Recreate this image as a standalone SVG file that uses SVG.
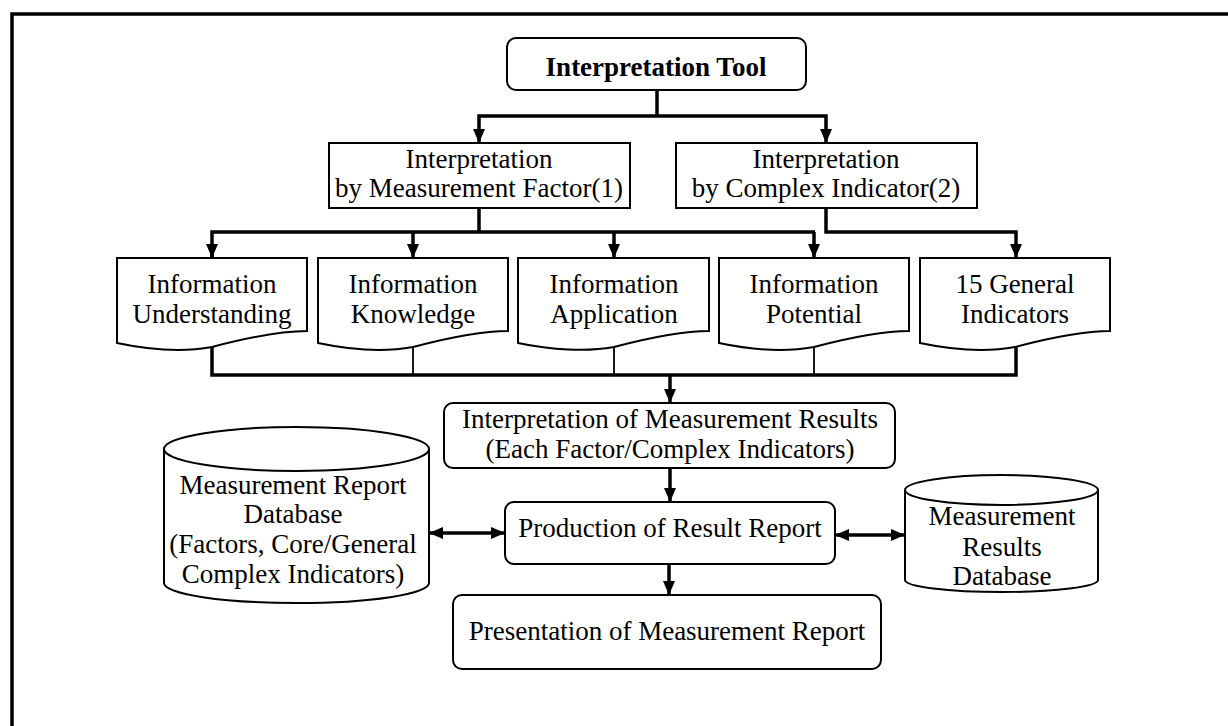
<svg xmlns="http://www.w3.org/2000/svg" width="1228" height="726" viewBox="0 0 1228 726">
<style>
text{font-family:"Liberation Serif","Times New Roman",serif;font-size:27px;fill:#000;text-anchor:middle}
.b{font-weight:bold}
.shape{fill:#fff;stroke:#000;stroke-width:2}
.c{fill:none;stroke:#000;stroke-width:3.5}
.t{fill:none;stroke:#000;stroke-width:1.8}
</style>
<defs>
<marker id="ah" viewBox="0 0 14 12" refX="14" refY="6" markerWidth="14" markerHeight="12" markerUnits="userSpaceOnUse" orient="auto-start-reverse">
<path d="M0,0 L14,6 L0,12 Z" fill="#000"/>
</marker>
</defs>
<rect x="0" y="0" width="1228" height="726" fill="#fff"/>
<rect x="12" y="14" width="1240" height="740" fill="none" stroke="#000" stroke-width="3.5"/>
<g id="nodes">
<g id="n-tool"><rect class="shape" x="507" y="38" width="299" height="52" rx="9"/><text class="b" x="656" y="76">Interpretation Tool</text></g>
<g id="n-factor"><rect class="shape" x="329" y="143" width="301" height="65"/><text x="479" y="168">Interpretation</text><text x="479" y="197">by Measurement Factor(1)</text></g>
<g id="n-complex"><rect class="shape" x="676" y="143" width="301" height="65"/><text x="826" y="168">Interpretation</text><text x="826" y="197">by Complex Indicator(2)</text></g>
<g id="n-und"><path class="shape" d="M117,258 H307 V331 C280,331 250,337 212,347 C185,352 150,350 117,343 Z"/><text x="212" y="293">Information</text><text x="212" y="323">Understanding</text></g>
<g id="n-know"><path class="shape" d="M318,258 H508 V331 C481,331 451,337 413,347 C386,352 351,350 318,343 Z"/><text x="413" y="293">Information</text><text x="413" y="323">Knowledge</text></g>
<g id="n-app"><path class="shape" d="M518,258 H709 V331 C682,331 652,337 614,347 C587,352 551,350 518,343 Z"/><text x="614" y="293">Information</text><text x="614" y="323">Application</text></g>
<g id="n-pot"><path class="shape" d="M719,258 H909 V331 C882,331 852,337 814,347 C787,352 752,350 719,343 Z"/><text x="814" y="293">Information</text><text x="814" y="323">Potential</text></g>
<g id="n-gen"><path class="shape" d="M920,258 H1110 V331 C1083,331 1053,337 1015,347 C988,352 953,350 920,343 Z"/><text x="1015" y="293">15 General</text><text x="1015" y="323">Indicators</text></g>
<g id="n-interp"><rect class="shape" x="444" y="403" width="451" height="65" rx="9"/><text x="670" y="428">Interpretation of Measurement Results</text><text x="670" y="458">(Each Factor/Complex Indicators)</text></g>
<g id="n-prod"><rect class="shape" x="505" y="502" width="330" height="62" rx="9"/><text x="670" y="537">Production of Result Report</text></g>
<g id="n-pres"><rect class="shape" x="453" y="595" width="428" height="74" rx="9"/><text x="667" y="640">Presentation of Measurement Report</text></g>
<g id="n-repdb"><path class="shape" d="M164,449 A132.5,22 0 0 1 429,449 V583 A132.5,20 0 0 1 164,583 Z"/><path class="shape" fill="none" d="M164,449 A132.5,22 0 0 0 429,449"/><text x="293" y="494">Measurement Report</text><text x="293" y="523">Database</text><text x="293" y="553">(Factors, Core/General</text><text x="293" y="583">Complex Indicators)</text></g>
<g id="n-resdb"><path class="shape" d="M905,490 A96.5,15 0 0 1 1098,490 V580 A96.5,12 0 0 1 905,580 Z"/><path class="shape" fill="none" d="M905,490 A96.5,15 0 0 0 1098,490"/><text x="1002" y="525">Measurement</text><text x="1002" y="556">Results</text><text x="1002" y="585">Database</text></g>
</g>
<g id="connectors">
<path class="c" d="M657,90 V116"/>
<path class="c" d="M479,143 V116 H826 V143" marker-start="url(#ah)" marker-end="url(#ah)"/>
<path class="c" d="M479,208 V232"/>
<path class="c" d="M212,258 V232 H815"/>
<path class="c" d="M212,246 V258" marker-end="url(#ah)"/>
<path class="c" d="M413,232 V258" marker-end="url(#ah)"/>
<path class="c" d="M614,232 V258" marker-end="url(#ah)"/>
<path class="c" d="M814,232 V258" marker-end="url(#ah)"/>
<path class="c" d="M826,208 V232 H1016 V258" marker-end="url(#ah)"/>
<path class="c" d="M212,347 V375 H1016 V346"/>
<path class="t" d="M413,347 V375"/>
<path class="t" d="M614,347 V375"/>
<path class="t" d="M814,347 V375"/>
<path class="c" d="M670,375 V403" marker-end="url(#ah)"/>
<path class="c" d="M670,468 V502" marker-end="url(#ah)"/>
<path class="c" d="M669,564 V595" marker-end="url(#ah)"/>
<path class="c" d="M429,533 H505" marker-start="url(#ah)" marker-end="url(#ah)"/>
<path class="c" d="M835,535 H905" marker-start="url(#ah)" marker-end="url(#ah)"/>
</g>
</svg>
